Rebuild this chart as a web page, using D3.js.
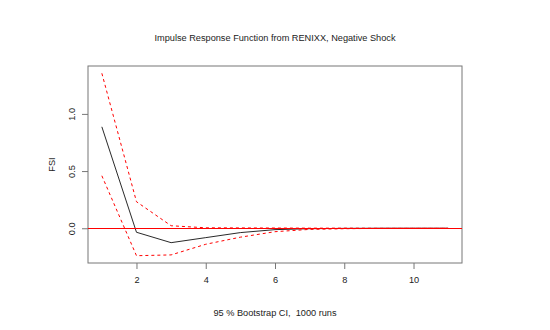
<!DOCTYPE html>
<html>
<head>
<meta charset="utf-8">
<script src="https://cdn.jsdelivr.net/npm/d3@7"></script>
<style>
  body { margin: 0; background: #fff; }
  svg { display: block; }
  text { font-family: "Liberation Sans", Arial, sans-serif; fill: #222; white-space: pre; }
</style>
</head>
<body>
<svg id="chart" width="550" height="330"></svg>
<script>
// horizon steps
var steps = [1, 2, 3, 4, 5, 6, 7, 8, 9, 10, 11];
// impulse response of FSI
var irf = [0.887, -0.035, -0.126, -0.082, -0.038, -0.012, -0.004, -0.001, 0, 0, 0];
// bootstrap band
var upper = [1.355, 0.232, 0.022, 0.004, 0.003, 0.002, 0.001, 0.001, 0, 0, 0];
var lower = [0.459, -0.24, -0.233, -0.14, -0.078, -0.03, -0.01, -0.004, -0.001, 0, 0];
var xTicks = [2, 4, 6, 8, 10];
var yTicks = [0, 0.5, 1.0];

var svg = d3.select("#chart");
var mLeft = 88, mRight = 462, mTop = 66, mBottom = 263;
var fontSize = "9.2px";

// R style 4% padding on both axes
var xPad = (d3.max(steps) - d3.min(steps)) * 0.04;
var x = d3.scaleLinear()
    .domain([d3.min(steps) - xPad, d3.max(steps) + xPad])
    .range([mLeft, mRight]);
var yMin = d3.min(lower), yMax = d3.max(upper);
var yPad = (yMax - yMin) * 0.04;
var y = d3.scaleLinear()
    .domain([yMin - yPad, yMax + yPad])
    .range([mBottom, mTop]);

var axisColor = "#777";

// x axis
var gx = svg.append("g")
    .attr("transform", "translate(0," + mBottom + ")")
    .call(d3.axisBottom(x).tickValues(xTicks).tickSize(6).tickPadding(7).tickFormat(d3.format("d")));
gx.select(".domain").remove();
gx.selectAll("line").attr("stroke", axisColor);
gx.selectAll("text").attr("font-size", fontSize).style("font-family", "Liberation Sans, Arial, sans-serif").attr("fill", "#222");

// y axis, labels turned like R
var gy = svg.append("g")
    .attr("transform", "translate(" + mLeft + ",0)")
    .call(d3.axisLeft(y).tickValues(yTicks).tickSize(6).tickFormat(d3.format(".1f")));
gy.select(".domain").remove();
gy.selectAll("line").attr("stroke", axisColor);
gy.selectAll("text")
    .attr("x", 0).attr("dy", 0)
    .attr("transform", "translate(-13,0) rotate(-90)")
    .attr("text-anchor", "middle")
    .attr("font-size", fontSize)
    .style("font-family", "Liberation Sans, Arial, sans-serif")
    .attr("fill", "#222");

// plot box
svg.append("rect")
    .attr("x", mLeft).attr("y", mTop)
    .attr("width", mRight - mLeft).attr("height", mBottom - mTop)
    .attr("fill", "none")
    .attr("stroke", axisColor)
    .attr("stroke-width", 1);

var line = d3.line()
    .x(function(d, i) { return x(steps[i]); })
    .y(function(d) { return y(d); });

svg.append("path")
    .datum(irf)
    .attr("d", line)
    .attr("fill", "none")
    .attr("stroke", "#111")
    .attr("stroke-width", 0.9);

svg.append("path")
    .datum(upper)
    .attr("d", line)
    .attr("fill", "none")
    .attr("stroke", "red")
    .attr("stroke-dasharray", "3,3");

svg.append("path")
    .datum(lower)
    .attr("d", line)
    .attr("fill", "none")
    .attr("stroke", "red")
    .attr("stroke-dasharray", "3,3");

// zero line drawn last, like abline
var y0 = Math.round(y(0)) + 0.5;
svg.append("line")
    .attr("x1", mLeft).attr("x2", mRight)
    .attr("y1", y0).attr("y2", y0)
    .attr("stroke", "#ff0000")
    .attr("stroke-width", 1);

// titles
svg.append("text")
    .attr("x", (mLeft + mRight) / 2).attr("y", 41)
    .attr("text-anchor", "middle")
    .attr("font-size", fontSize)
    .text("Impulse Response Function from RENIXX, Negative Shock");

svg.append("text")
    .attr("x", (mLeft + mRight) / 2).attr("y", 316)
    .attr("text-anchor", "middle")
    .attr("font-size", fontSize)
    .text("95 % Bootstrap CI,  1000 runs");

svg.append("text")
    .attr("transform", "translate(55," + ((mTop + mBottom) / 2) + ") rotate(-90)")
    .attr("text-anchor", "middle")
    .attr("font-size", fontSize)
    .text("FSI");
</script>
</body>
</html>
